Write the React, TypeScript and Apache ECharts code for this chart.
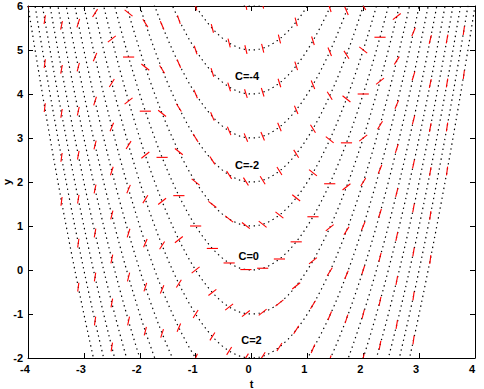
import React, { useEffect, useRef } from "react";
import * as echarts from "echarts";

// Isocline values C for y' = t^2 - y  (isocline: y = t^2 - C)
const C_VALUES = [-6, -5, -4, -3, -2, -1, 0, 1, 2, 3, 4, 5, 6, 7, 8, 9, 10];
// t positions where slope marks are drawn on each isocline
const T_MARKS = [
  -4, -3.7, -3.4, -3.1, -2.8, -2.5, -2.2, -1.9, -1.6, -1.3, -1, -0.7, -0.4, -0.1,
  0.2, 0.5, 0.8, 1.1, 1.4, 1.7, 2, 2.3, 2.6, 2.9, 3.2, 3.5, 3.8,
];
// labelled isoclines and where their labels sit
const LABEL_C = [-4, -2, 0, 2];
const LABEL_T = [-0.08, -0.08, -0.05, 0];
const LABEL_Y = [4.42, 2.39, 0.32, -1.6];

const X_MIN = -4, X_MAX = 4, Y_MIN = -2, Y_MAX = 6;
const SEG_LEN = 0.2;
const FONT = "'Liberation Sans', Arial, Helvetica, sans-serif";

export default function App() {
  const ref = useRef<HTMLDivElement>(null);
  useEffect(() => {
    if (!ref.current) return;
    const chart = echarts.init(ref.current, undefined, { renderer: "svg" });

    const curveT: number[] = [];
    for (let i = 0; i <= 800; i++) curveT.push(X_MIN + (i * (X_MAX - X_MIN)) / 800);

    const curveSeries = C_VALUES.map((c) => ({
      type: "line",
      data: curveT.map((t) => [t, t * t - c]),
      showSymbol: false,
      symbol: "none",
      clip: true,
      silent: true,
      lineStyle: { color: "#000", width: 1.2, type: [1.4, 3.6] },
      z: 1,
    }));

    const marks: number[][] = [];
    C_VALUES.forEach((c) => {
      T_MARKS.forEach((t) => {
        const y = t * t - c;
        if (y >= Y_MIN - 0.15 && y <= Y_MAX + 0.15) marks.push([t, y, c]);
      });
    });

    const labelData = LABEL_C.map((c, i) => [LABEL_T[i], LABEL_Y[i], c]);

    const tickLabel = {
      fontFamily: FONT,
      fontSize: 11,
      fontWeight: "bold",
      color: "#000",
    };

    chart.setOption({
      animation: false,
      backgroundColor: "#fff",
      grid: {
        left: 28,
        right: 9,
        top: 6,
        bottom: 31,
        containLabel: false,
        outerBoundsMode: "none",
      },
      graphic: [
        {
          type: "text",
          x: 7,
          y: 182,
          rotation: Math.PI / 2,
          style: {
            text: "y",
            fontFamily: FONT,
            fontSize: 11,
            fontWeight: "bold",
            fill: "#000",
            align: "center",
            verticalAlign: "middle",
          },
        },
      ],
      xAxis: [
        {
          type: "value",
          min: X_MIN,
          max: X_MAX,
          interval: 1,
          position: "bottom",
          name: "t",
          nameLocation: "middle",
          nameGap: 18,
          nameTextStyle: { ...tickLabel },
          axisLine: { show: true, onZero: false, lineStyle: { color: "#000", width: 1 } },
          axisTick: { show: true, inside: true, length: 5, lineStyle: { color: "#000" } },
          axisLabel: { ...tickLabel, margin: 5, padding: [0, 6, 0, 0] },
          splitLine: { show: false },
        },
        {
          type: "value",
          min: X_MIN,
          max: X_MAX,
          interval: 1,
          position: "top",
          axisLine: { show: true, onZero: false, lineStyle: { color: "#000", width: 1 } },
          axisTick: { show: true, inside: true, length: 5, lineStyle: { color: "#000" } },
          axisLabel: { show: false },
          splitLine: { show: false },
        },
      ],
      yAxis: [
        {
          type: "value",
          min: Y_MIN,
          max: Y_MAX,
          interval: 1,
          position: "left",
          axisLine: { show: true, onZero: false, lineStyle: { color: "#000", width: 1 } },
          axisTick: { show: true, inside: true, length: 5, lineStyle: { color: "#000" } },
          axisLabel: { ...tickLabel, margin: 5 },
          splitLine: { show: false },
        },
        {
          type: "value",
          min: Y_MIN,
          max: Y_MAX,
          interval: 1,
          position: "right",
          axisLine: { show: true, onZero: false, lineStyle: { color: "#000", width: 1 } },
          axisTick: { show: true, inside: true, length: 5, lineStyle: { color: "#000" } },
          axisLabel: { show: false },
          splitLine: { show: false },
        },
      ],
      series: [
        ...curveSeries,
        {
          type: "custom",
          data: marks,
          clip: true,
          silent: true,
          z: 3,
          renderItem: (params: any, api: any) => {
            const t = api.value(0);
            const y = api.value(1);
            const c = api.value(2);
            const n = Math.sqrt(1 + c * c);
            const dx = SEG_LEN / 2 / n;
            const dy = (SEG_LEN / 2) * c / n;
            const p1 = api.coord([t - dx, y - dy]);
            const p2 = api.coord([t + dx, y + dy]);
            return {
              type: "line",
              shape: { x1: p1[0], y1: p1[1], x2: p2[0], y2: p2[1] },
              style: { stroke: "#ff0000", lineWidth: 1.1 },
            };
          },
        },
        {
          type: "custom",
          data: labelData,
          silent: true,
          z: 5,
          renderItem: (params: any, api: any) => {
            const p = api.coord([api.value(0), api.value(1)]);
            return {
              type: "text",
              x: p[0],
              y: p[1],
              style: {
                text: "C=" + api.value(2),
                fontFamily: FONT,
                fontSize: 11,
                fontWeight: "bold",
                fill: "#000",
                align: "center",
                verticalAlign: "middle",
              },
            };
          },
        },
      ],
    });

    return () => chart.dispose();
  }, []);

  return (
    <div
      ref={ref}
      style={{ position: "absolute", left: 0, top: 0, width: 484, height: 389 }}
    />
  );
}
